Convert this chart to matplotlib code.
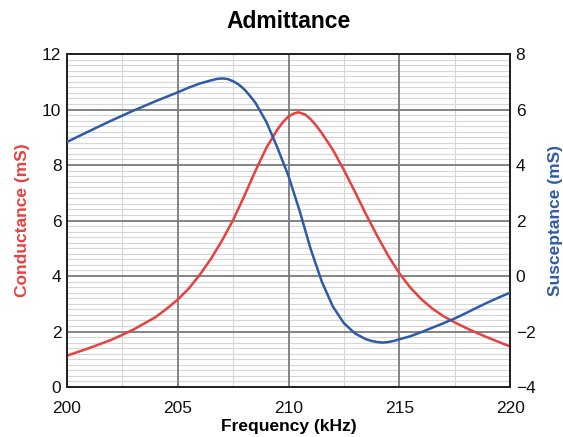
import matplotlib.pyplot as plt
from matplotlib.ticker import MultipleLocator

plt.rcParams['font.family'] = ['Liberation Sans', 'DejaVu Sans']

# conductance (left axis, mS)
freq_g = [200.0, 201.0, 202.0, 202.5, 203.0, 204.0, 204.5, 205.0, 205.5, 206.0,
          206.5, 207.0, 207.5, 208.0, 208.5, 209.0, 209.5, 209.75, 210.0, 210.25,
          210.45, 210.75, 211.0, 211.25, 211.5, 212.0, 212.5, 213.0, 213.5, 214.0,
          214.5, 215.0, 215.5, 216.0, 216.5, 217.0, 217.5, 218.0, 218.5, 219.0,
          219.5, 220.0]
cond = [1.13, 1.4, 1.7, 1.88, 2.07, 2.52, 2.82, 3.15, 3.55, 4.05,
        4.62, 5.28, 6.02, 6.88, 7.78, 8.62, 9.28, 9.55, 9.75, 9.86,
        9.9, 9.82, 9.65, 9.42, 9.15, 8.55, 7.82, 7.03, 6.22, 5.45,
        4.73, 4.1, 3.58, 3.16, 2.82, 2.55, 2.33, 2.13, 1.95, 1.78,
        1.62, 1.46]

# susceptance (right axis, mS)
freq_b = [200.0, 201.0, 202.0, 203.0, 204.0, 205.0, 205.5, 206.0, 206.5, 206.75,
          207.0, 207.25, 207.5, 207.75, 208.0, 208.25, 208.5, 209.0, 209.5, 210.0,
          210.5, 211.0, 211.5, 212.0, 212.5, 213.0, 213.5, 213.75, 214.0, 214.25,
          214.5, 214.75, 215.0, 215.5, 216.0, 216.5, 217.0, 217.5, 218.0, 218.5,
          219.0, 219.5, 220.0]
susc = [4.83, 5.22, 5.6, 5.96, 6.3, 6.62, 6.79, 6.94, 7.05, 7.1,
        7.12, 7.1, 7.02, 6.9, 6.73, 6.5, 6.25, 5.55, 4.62, 3.6,
        2.35, 0.97, -0.2, -1.1, -1.7, -2.07, -2.28, -2.34, -2.38, -2.4,
        -2.38, -2.34, -2.28, -2.17, -2.02, -1.86, -1.7, -1.53, -1.34, -1.14,
        -0.95, -0.77, -0.6]

red = '#e8403f'
blue = '#2f5ba6'

fig = plt.figure(figsize=(5.63, 4.37), dpi=100)
ax = fig.add_axes([0.119, 0.1144, 0.787, 0.762])
ax2 = ax.twinx()

ax.set_xlim(200, 220)
ax.set_ylim(0, 12)
ax2.set_ylim(-4, 8)
ax.xaxis.set_major_locator(MultipleLocator(5))
ax.xaxis.set_minor_locator(MultipleLocator(2.5))
ax.yaxis.set_major_locator(MultipleLocator(2))
ax.yaxis.set_minor_locator(MultipleLocator(0.2))
ax2.yaxis.set_major_locator(MultipleLocator(2))

# light minor grid, dark major grid drawn over it
ax.grid(which='minor', color='#d6d6d6', lw=0.8)
ax.set_axisbelow(True)
for xv in ax.get_xticks():
    ax.axvline(xv, color='#7a7a7a', lw=1.3, zorder=1)
for yv in ax.get_yticks():
    ax.axhline(yv, color='#7a7a7a', lw=1.3, zorder=1)

ax.plot(freq_g, cond, color=red, lw=1.8, zorder=3)
ax2.plot(freq_b, susc, color=blue, lw=1.8, zorder=3)

for a in (ax, ax2):
    for s in a.spines.values():
        s.set_color('#222222')
        s.set_linewidth(1.4)
    a.tick_params(which='both', length=0, labelsize=12.5, colors='#111111', pad=4)
ax.tick_params(axis='x', pad=10)

ax.set_title('Admittance', fontsize=16.5, fontweight='bold', pad=19)
ax.set_xlabel('Frequency (kHz)', fontsize=12.5, fontweight='bold', labelpad=2)
ax.set_ylabel('Conductance (mS)', fontsize=12.5, fontweight='bold', color=red, labelpad=9)
ax2.set_ylabel('Susceptance (mS)', fontsize=12.5, fontweight='bold', color=blue, labelpad=9)

fig.savefig('out.png', dpi=100)
